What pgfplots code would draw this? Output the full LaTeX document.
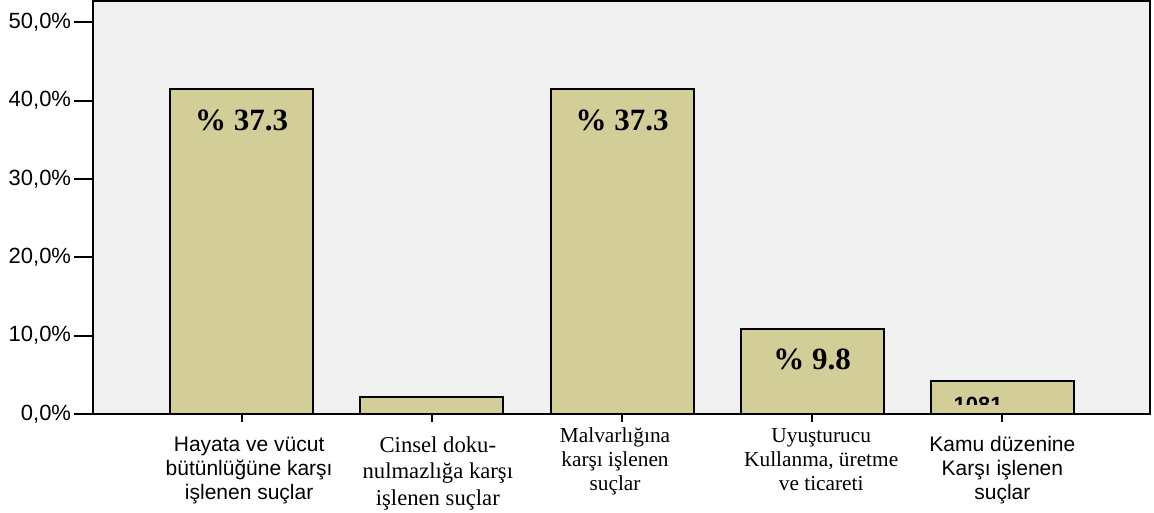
\documentclass[border=0pt]{standalone}
\usepackage{fontspec}
\setmainfont{Liberation Serif}
\setsansfont{Liberation Sans}
\usepackage{array}
\usepackage{pgfplots}
\pgfplotsset{compat=1.18}
\definecolor{plotbg}{HTML}{F0F0F0}
\definecolor{barfill}{HTML}{D3CE97}
\newcommand{\sanslab}{\sffamily\fontsize{15.75}{18}\selectfont}
\newcommand{\ticklab}{\sffamily\fontsize{16.5}{18}\selectfont}
\newcommand{\seriflab}{\rmfamily\fontsize{16}{18}\selectfont}
\newcommand{\seriflabbig}{\rmfamily\fontsize{17}{20}\selectfont}
% font, space left, space right, first line height, text
\newcommand{\catlab}[5]{\hspace*{#2}{#1\begin{tabular}{@{}c@{}}\rule{0pt}{#4}#5\end{tabular}}\hspace*{#3}}

\begin{document}
\begin{tikzpicture}
\path[use as bounding box] (-69.75pt,-74.25pt) rectangle (795.75pt,310.5pt);
\begin{axis}[
    scale only axis,
    width=792.75pt, height=309.75pt,
    xmin=-0.7816, xmax=4.776,
    ymin=0, ymax=52.7,
    axis background/.style={fill=plotbg},
    axis line style={black, line width=1pt},
    ybar, bar width=107.25pt,
    tick align=outside,
    xtick pos=bottom, ytick pos=left,
    major tick length=14pt,
    xtick style={draw=none},
    ytick style={black, line width=1.5pt},
    ytick={0,10,20,30,40,50},
    yticklabels={{0,0\%},{10,0\%},{20,0\%},{30,0\%},{40,0\%},{50,0\%}},
    yticklabel style={font=\ticklab, anchor=east, inner sep=0pt, xshift=-2.25pt},
    xtick={0,1,2,3,4},
    xticklabels={
      {\catlab{\sanslab}{11.25pt}{0pt}{19.35pt}{Hayata ve vücut\\bütünlüğüne karşı\\işlenen suçlar}},
      {\catlab{\seriflabbig}{9pt}{0pt}{20.1pt}{Cinsel doku-\\nulmazlığa karşı\\işlenen suçlar}},
      {\catlab{\seriflab}{0pt}{10.5pt}{12.6pt}{Malvarlığına\\karşı işlenen\\suçlar}},
      {\catlab{\seriflab}{13.5pt}{0pt}{12.6pt}{Uyuşturucu\\Kullanma, üretme\\ve ticareti}},
      {\catlab{\sanslab}{0pt}{0pt}{19.35pt}{Kamu düzenine\\Karşı işlenen\\suçlar}}
    },
    xticklabel style={anchor=north, inner sep=0pt, yshift=5.6pt},
]
\addplot[fill=barfill, draw=black, line width=1.5pt] coordinates {(0,41.5) (1,2.15) (2,41.5) (3,10.86) (4,4.21)};

\node[anchor=base, font=\rmfamily\bfseries\fontsize{23.25}{26}\selectfont] at (axis cs:0,36.14) {\% 37.3};
\node[anchor=base, font=\rmfamily\bfseries\fontsize{23.25}{26}\selectfont] at (axis cs:2,36.14) {\% 37.3};
\node[anchor=base, font=\rmfamily\bfseries\fontsize{23.25}{26}\selectfont] at (axis cs:3,5.62) {\% 9.8};
\begin{scope}
\clip (axis cs:3.6,1.15) rectangle (axis cs:4.3,4.0);
\node[anchor=base west, inner sep=0pt, font=\sffamily\bfseries\fontsize{16.5}{18}\selectfont] at (axis cs:3.742,0.13) {1081};
\end{scope}
\end{axis}
\begin{axis}[
    scale only axis,
    width=792.75pt, height=309.75pt,
    xmin=-0.7816, xmax=4.776,
    ymin=0, ymax=52.7,
    hide y axis,
    axis x line*=bottom,
    x axis line style={draw=none},
    tick align=outside,
    major tick length=6pt,
    xtick={0,1,2,3,4},
    xticklabels={},
    xtick style={black, line width=1.5pt},
]
\end{axis}
\end{tikzpicture}
\end{document}
